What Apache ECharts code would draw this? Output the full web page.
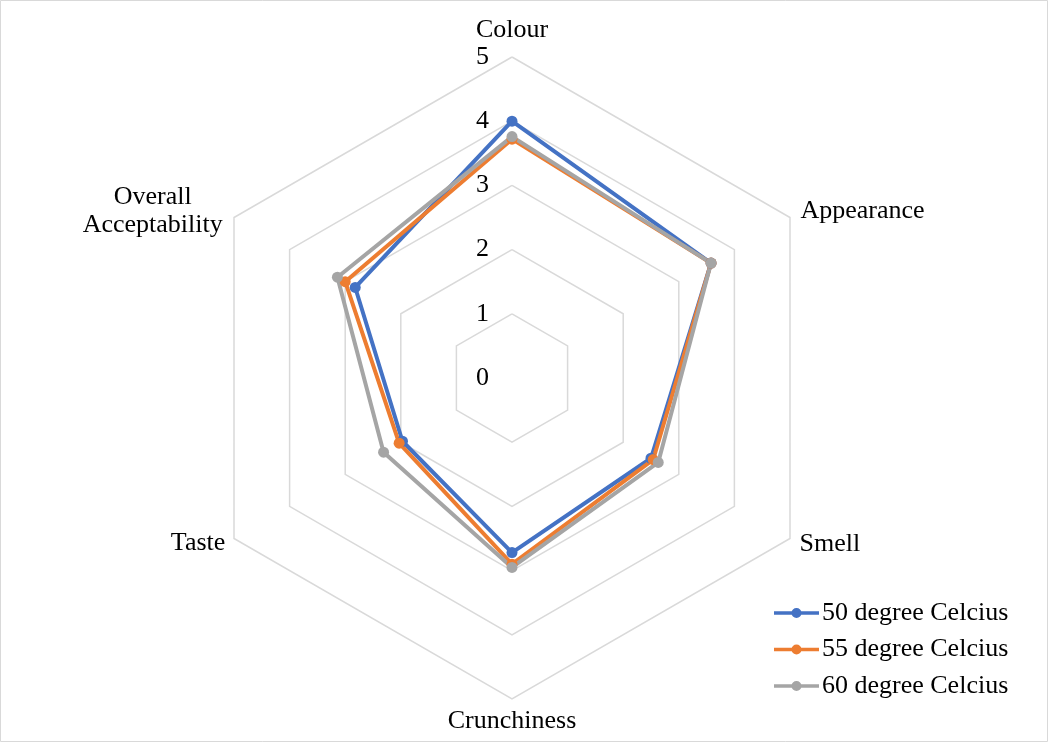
<!DOCTYPE html>
<html>
<head>
<meta charset="utf-8">
<script src="https://cdn.jsdelivr.net/npm/echarts@6/dist/echarts.min.js"></script>
<style>
  html, body { margin: 0; padding: 0; background: #ffffff; }
  #chart { width: 1048px; height: 742px; }
</style>
</head>
<body>
<div id="chart"></div>
<script>
// Sensory attributes, listed clockwise from the top
const attributes = ['Colour', 'Appearance', 'Smell', 'Crunchiness', 'Taste', 'Overall\nAcceptability'];
// Mean sensory scores per drying temperature (same order as attributes)
const scores50 = [4.00, 3.58, 2.50, 2.72, 1.97, 2.82];
const scores55 = [3.72, 3.58, 2.54, 2.90, 2.03, 3.00];
const scores60 = [3.76, 3.58, 2.63, 2.95, 2.31, 3.14];
const seriesNames = ['50 degree Celcius', '55 degree Celcius', '60 degree Celcius'];
const seriesColors = ['#4472C4', '#ED7D31', '#A5A5A5'];
const scaleMax = 5;

const FONT = '"Liberation Serif", "Times New Roman", serif';
const FS = 26;

// per-axis spacing between the polygon tip and the axis name
const nameGaps = [12, 12, 11, 8, 10, 13];

// ECharts lays radar axes out counter-clockwise; keep the first axis on top
// and walk the rest backwards so the attributes read clockwise.
const order = attributes.map((_, i) => (i === 0 ? 0 : attributes.length - i));

const indicators = order.map(k => {
  const ind = { name: attributes[k], min: 0, max: scaleMax, nameGap: nameGaps[k] };
  if (k === 0) {
    // scale numbers are shown only along the vertical axis
    ind.axisLabel = {
      show: true,
      color: '#000',
      fontFamily: FONT,
      fontSize: FS,
      margin: 23
    };
  }
  return ind;
});

// legend glyph: a short line with a round marker in the middle
const legendIcon = 'path://M0,3.3 L45,3.3 L45,6.7 L0,6.7 Z M17.5,5 A5,5 0 1,1 27.5,5 A5,5 0 1,1 17.5,5 Z';

const chart = echarts.init(document.getElementById('chart'), null, { renderer: 'canvas' });

const seriesData = [scores50, scores55, scores60];

chart.setOption({
  backgroundColor: '#ffffff',
  animation: false,
  graphic: [{
    type: 'rect',
    shape: { x: 0.5, y: 0.5, width: 1047, height: 741 },
    style: { fill: 'none', stroke: '#d9d9d9', lineWidth: 1 },
    silent: true,
    z: -10
  }],
  legend: {
    orient: 'vertical',
    left: 774,
    top: 600,
    padding: 0,
    itemWidth: 45,
    itemHeight: 10,
    itemGap: 10.5,
    icon: legendIcon,
    data: seriesNames,
    textStyle: { color: '#000', fontFamily: FONT, fontSize: FS, padding: [0, 0, 0, -2] }
  },
  radar: {
    center: [512, 378],
    radius: 321,
    startAngle: 90,
    splitNumber: 5,
    shape: 'polygon',
    indicator: indicators,
    axisName: {
      color: '#000',
      fontFamily: FONT,
      fontSize: FS,
      lineHeight: 28,
      formatter: function (v) {
        return v.split('\n').map(s => '{c|' + s + '}').join('\n');
      },
      rich: {
        c: { align: 'center', color: '#000', fontFamily: FONT, fontSize: FS, lineHeight: 28 }
      }
    },
    axisLine: { show: false },
    axisTick: { show: false },
    axisLabel: { show: false },
    splitLine: { lineStyle: { color: '#d9d9d9', width: 1.5 } },
    splitArea: { show: false }
  },
  series: [{
    type: 'radar',
    symbol: 'circle',
    symbolSize: 11,
    data: seriesData.map((vals, i) => ({
      name: seriesNames[i],
      value: order.map(k => vals[k]),
      itemStyle: { color: seriesColors[i] },
      lineStyle: { color: seriesColors[i], width: 4 }
    }))
  }]
});
</script>
</body>
</html>
